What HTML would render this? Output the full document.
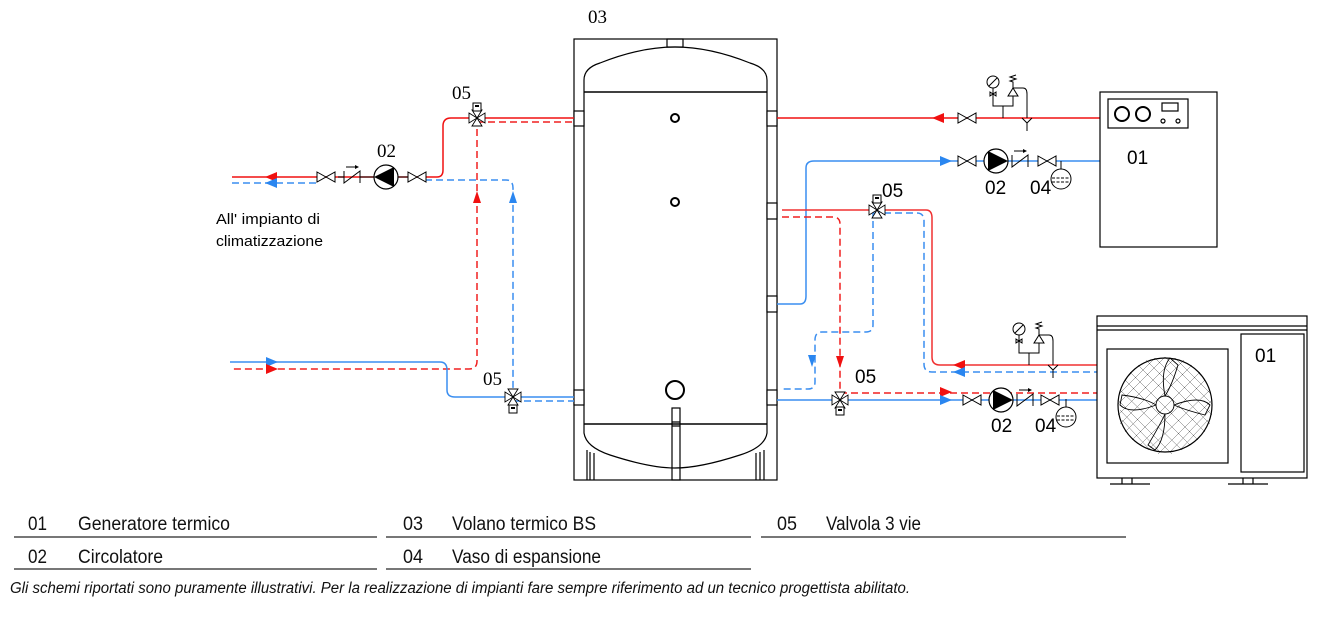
<!DOCTYPE html>
<html><head><meta charset="utf-8"><style>
html,body{margin:0;padding:0;background:#fff;width:1326px;height:620px;overflow:hidden}
svg{display:block}
.t{font-family:"Liberation Sans",sans-serif;font-size:19px;fill:#000}
.l{font-family:"Liberation Sans",sans-serif;font-size:19px;fill:#111}
</style></head><body>
<svg width="1326" height="620" viewBox="0 0 1326 620" xmlns="http://www.w3.org/2000/svg">
<defs>
<g id="gv"><path d="M-9,-5 L9,5 L9,-5 L-9,5 Z" fill="#fff" stroke="#000" stroke-width="1"/></g>
<g id="pumpR"><circle r="12" fill="#fff" stroke="#000" stroke-width="1.2"/><path d="M-8,-10 L12,0 L-8,10 Z" fill="#000"/></g>
<g id="pumpL"><circle r="12" fill="#fff" stroke="#000" stroke-width="1.2"/><path d="M8,-10 L-12,0 L8,10 Z" fill="#000"/></g>
<g id="chk"><path d="M-8,-6 L-8,6 L8,-6 L8,6" fill="none" stroke="#000"/><path d="M-6,-10 L6,-10" stroke="#000"/><path d="M7,-10 l-4,-2 v4z" fill="#000"/></g>
<g id="v3"><path d="M-8,-5 L8,5 L8,-5 L-8,5 Z M-5,8 L5,8 L0,0 Z M-5,-8 L5,-8 L0,0Z" fill="#fff" stroke="#000" stroke-width="0.9"/></g>
<g id="act"><rect x="-4" y="-4" width="8" height="8" fill="#fff" stroke="#000"/><rect x="-2" y="-2" width="4" height="2" fill="#000"/></g>
<g id="exp"><circle r="10" fill="#fff" stroke="#000"/><path d="M-9,-1 H9 M-9,3 H9" stroke="#000" stroke-dasharray="3,1.5"/><path d="M0,-10 V-18" stroke="#000"/></g>
<g id="safe"><circle cx="0" cy="-36" r="6" fill="#fff" stroke="#000"/><path d="M-4,-32 L4,-40" stroke="#000"/><path d="M0,-30 V-18 M-3,-26 L3,-22 L3,-26 L-3,-22Z M0,-18 V-12 H20 V-22 M0,-12 V-12" fill="none" stroke="#000"/><path d="M15,-22 L20,-30 L25,-22Z M20,-30 L30,-30 M20,-30 v-6 l-3,-1 l6,-2 l-6,-2 l6,-2" fill="#fff" stroke="#000"/><path d="M10,-12 V0" stroke="#000"/><path d="M30,-30 q4,0 4,6 V0" fill="none" stroke="#000"/><path d="M29,0 l5,5 l5,-5 M34,5 V13" fill="none" stroke="#000"/></g>
</defs>

<!-- TANK -->
<g fill="none" stroke="#000" stroke-width="1.2">
<rect x="574" y="39" width="203" height="441"/>
<rect x="667" y="39" width="16" height="8"/>
<path d="M584,92 V80 Q584,68 600,63 Q640,47 675,47 Q710,47 750,63 Q767,68 767,80 V92"/>
<path d="M584,92 H767" stroke-width="1.5"/>
<path d="M584,92 V424 M767,92 V424"/>
<path d="M584,424 H767" stroke-width="1.5"/>
<path d="M584,424 V433 Q586,447 610,455 Q650,468 675,468 Q700,468 740,455 Q765,447 767,433 V424"/>
<path d="M587,450 V480 M590,452 V480 M594,453 V480 M756,453 V480 M760,452 V480 M764,450 V480"/>
<rect x="672" y="408" width="8" height="72"/>
<path d="M672,422 H680 M672,426 H680"/>
<circle cx="675" cy="118" r="4" stroke-width="2"/>
<circle cx="675" cy="202" r="4" stroke-width="2"/>
<circle cx="675" cy="390" r="9" stroke-width="2"/>
<rect x="574" y="111" width="10" height="15" fill="#fff"/>
<rect x="574" y="390" width="10" height="15" fill="#fff"/>
<rect x="767" y="111" width="10" height="15" fill="#fff"/>
<rect x="767" y="203" width="10" height="16" fill="#fff"/>
<rect x="767" y="296" width="10" height="16" fill="#fff"/>
<rect x="767" y="390" width="10" height="15" fill="#fff"/>
</g>
<text x="588" y="23" class="t" style="font-family:'Liberation Serif',serif;font-size:19px">03</text>

<!-- LEFT CIRCUIT -->
<g fill="none" stroke-width="1.5">
<path d="M232,177 H437 Q443,177 443,170 V126 Q443,118 451,118 H574" stroke="#f01010"/>
<path d="M232,183 H318" stroke="#3a8ef0" stroke-dasharray="7,4"/>
<path d="M425,180 H506 Q513,180 513,188 V397" stroke="#3a8ef0" stroke-dasharray="7,4"/>
<path d="M477,118 V361 Q477,369 469,369 H230" stroke="#f02020" stroke-dasharray="7,4"/>
<path d="M477,122 H574" stroke="#f02020" stroke-dasharray="7,4"/>
<path d="M230,362 H440 Q447,362 447,370 V390 Q447,397 455,397 H574" stroke="#3a8ef0"/>
<path d="M513,401 H574" stroke="#3a8ef0" stroke-dasharray="7,4"/>
</g>
<path d="M265,177 l12,-5 v10z" fill="#f01010"/>
<path d="M265,183 l12,-5 v10z" fill="#2a86f0"/>
<path d="M477,191 l-4,12 h8z" fill="#f01010"/>
<path d="M513,191 l-4,12 h8z" fill="#2a86f0"/>
<path d="M278,362 l-12,-5 v10z" fill="#2a86f0"/>
<path d="M278,369 l-12,-5 v10z" fill="#f01010"/>
<use href="#gv" x="326" y="177"/>
<use href="#chk" x="352" y="177"/>
<path d="M338,177 H344 M360,177 H374 M398,177 H410" stroke="#000"/>
<use href="#pumpL" x="386" y="177"/>
<use href="#gv" x="417" y="177"/>
<use href="#v3" x="477" y="118"/><use href="#act" x="477" y="107"/>
<use href="#v3" x="513" y="397"/><use href="#act" x="513" y="409"/>
<text x="452" y="99" class="t" style="font-family:'Liberation Serif',serif;font-size:19px">05</text>
<text x="377" y="157" class="t" style="font-family:'Liberation Serif',serif;font-size:19px">02</text>
<text x="483" y="385" class="t" style="font-family:'Liberation Serif',serif;font-size:19px">05</text>
<text x="216" y="224" style="font-family:'Liberation Sans',sans-serif;font-size:15px" textLength="104" lengthAdjust="spacingAndGlyphs">All' impianto di</text>
<text x="216" y="246" style="font-family:'Liberation Sans',sans-serif;font-size:15px" textLength="107" lengthAdjust="spacingAndGlyphs">climatizzazione</text>

<!-- RIGHT CIRCUIT -->
<g fill="none" stroke-width="1.5">
<path d="M777,118 H1100" stroke="#f01010"/>
<path d="M777,304 H800 Q806,304 806,296 V168 Q806,161 814,161 H1100" stroke="#3a8ef0"/>
<path d="M782,210 H926 Q932,210 932,218 V357 Q932,365 940,365 H1097" stroke="#f03030"/>
<path d="M873,213 H917 Q924,213 924,221 V364 Q924,372 932,372 H1097" stroke="#3a8ef0" stroke-dasharray="7,4"/>
<path d="M782,217 H833 Q840,217 840,224 V400" stroke="#f02020" stroke-dasharray="7,4"/>
<path d="M840,393 H1097" stroke="#f02020" stroke-dasharray="7,4"/>
<path d="M873,210 V325 Q873,332 866,332 H822 Q815,332 815,340 V382 Q815,389 808,389 H782" stroke="#3a8ef0" stroke-dasharray="7,4"/>
<path d="M777,400 H1097" stroke="#3a8ef0"/>
</g>
<path d="M932,118 l12,-5 v10z" fill="#f01010"/>
<path d="M952,161 l-12,-5 v10z" fill="#2a86f0"/>
<path d="M953,365 l12,-5 v10z" fill="#f01010"/>
<path d="M953,372 l12,-5 v10z" fill="#2a86f0"/>
<path d="M952,392 l-12,-5 v10z" fill="#f01010"/>
<path d="M952,400 l-12,-5 v10z" fill="#2a86f0"/>
<path d="M812,367 l-4,-12 h8z" fill="#2a86f0"/>
<path d="M840,368 l-4,-12 h8z" fill="#f01010"/>
<use href="#gv" x="967" y="118"/>
<use href="#safe" x="993" y="118"/>
<use href="#gv" x="967" y="161"/>
<use href="#pumpR" x="996" y="161"/>
<use href="#chk" x="1020" y="161"/>
<use href="#gv" x="1047" y="161"/>
<use href="#exp" x="1061" y="179"/>
<use href="#v3" x="877" y="210"/><use href="#act" x="877" y="199"/>
<use href="#safe" x="1019" y="365"/>
<use href="#v3" x="840" y="400"/><use href="#act" x="840" y="411"/>
<use href="#gv" x="972" y="400"/>
<use href="#pumpR" x="1001" y="400"/>
<use href="#chk" x="1025" y="400"/>
<use href="#gv" x="1050" y="400"/>
<use href="#exp" x="1066" y="417"/>
<text x="985" y="194" class="t">02</text>
<text x="1030" y="194" class="t">04</text>
<text x="882" y="197" class="t">05</text>
<text x="855" y="383" class="t">05</text>
<text x="991" y="432" class="t">02</text>
<text x="1035" y="432" class="t">04</text>

<!-- BOILER -->
<g fill="none" stroke="#000" stroke-width="1.2">
<rect x="1100" y="92" width="117" height="155" fill="#fff"/>
<rect x="1108" y="99" width="80" height="29"/>
<circle cx="1122" cy="114" r="7" stroke-width="2"/>
<circle cx="1143" cy="114" r="7" stroke-width="2"/>
<rect x="1162" y="103" width="16" height="8"/>
<circle cx="1163" cy="121" r="2"/><circle cx="1178" cy="121" r="2"/>
</g>
<text x="1127" y="164" class="t">01</text>

<!-- HEAT PUMP -->
<g fill="none" stroke="#000" stroke-width="1.2">
<rect x="1097" y="316" width="210" height="162" fill="#fff"/>
<path d="M1097,326 H1307 M1097,330 H1307"/>
<rect x="1107" y="349" width="121" height="114"/>
<rect x="1241" y="334" width="63" height="138"/>
<circle cx="1165" cy="405" r="47" stroke-width="1.2"/>
<path d="M1110,484 H1150 M1122,478 V484 M1132,478 V484 M1228,484 H1268 M1243,478 V484 M1253,478 V484"/>
<g stroke-width="0.9">
<circle cx="1165" cy="405" r="9"/>
<path d="M1165,396 Q1160,370 1170,358 L1178,365 Q1172,385 1165,396 M1174,405 Q1200,395 1210,405 L1205,415 Q1185,410 1174,405 M1165,414 Q1165,440 1155,450 L1148,445 Q1160,425 1165,414 M1156,405 Q1130,415 1120,405 L1122,395 Q1145,398 1156,405"/>
</g>
</g>
<g stroke="#000" stroke-width="0.5" opacity="0.6">
<path d="M1125,380 L1190,445 M1130,372 L1198,440 M1138,365 L1205,432 M1146,360 L1210,424 M1120,390 L1182,450 M1118,400 L1172,454 M1155,358 L1212,415 M1165,357 L1212,404 M1120,410 L1160,452 M1122,420 L1150,450 M1175,358 L1210,393"/>
<path d="M1205,380 L1140,445 M1200,372 L1132,440 M1192,365 L1125,432 M1184,360 L1120,424 M1210,390 L1148,450 M1212,400 L1158,454 M1175,358 L1118,415 M1165,357 L1118,404 M1210,410 L1170,452 M1208,420 L1180,450 M1155,358 L1120,393"/>
</g>
<text x="1255" y="362" class="t">01</text>

<!-- LEGEND -->
<g stroke="#777" stroke-width="2">
<path d="M14,537 H377 M386,537 H751 M761,537 H1126 M14,569 H377 M386,569 H751"/>
</g>
<text x="28" y="530" class="l" textLength="19" lengthAdjust="spacingAndGlyphs">01</text><text x="78" y="530" class="l" textLength="152" lengthAdjust="spacingAndGlyphs">Generatore termico</text>
<text x="403" y="530" class="l" textLength="20" lengthAdjust="spacingAndGlyphs">03</text><text x="452" y="530" class="l" textLength="144" lengthAdjust="spacingAndGlyphs">Volano termico BS</text>
<text x="777" y="530" class="l" textLength="20" lengthAdjust="spacingAndGlyphs">05</text><text x="826" y="530" class="l" textLength="95" lengthAdjust="spacingAndGlyphs">Valvola 3 vie</text>
<text x="28" y="563" class="l" textLength="19" lengthAdjust="spacingAndGlyphs">02</text><text x="78" y="563" class="l" textLength="85" lengthAdjust="spacingAndGlyphs">Circolatore</text>
<text x="403" y="563" class="l" textLength="20" lengthAdjust="spacingAndGlyphs">04</text><text x="452" y="563" class="l" textLength="149" lengthAdjust="spacingAndGlyphs">Vaso di espansione</text>
<text x="10" y="593" style="font-family:'Liberation Sans',sans-serif;font-size:15.5px;font-style:italic;fill:#111" textLength="900" lengthAdjust="spacingAndGlyphs">Gli schemi riportati sono puramente illustrativi. Per la realizzazione di impianti fare sempre riferimento ad un tecnico progettista abilitato.</text>
</svg>
</body></html>
